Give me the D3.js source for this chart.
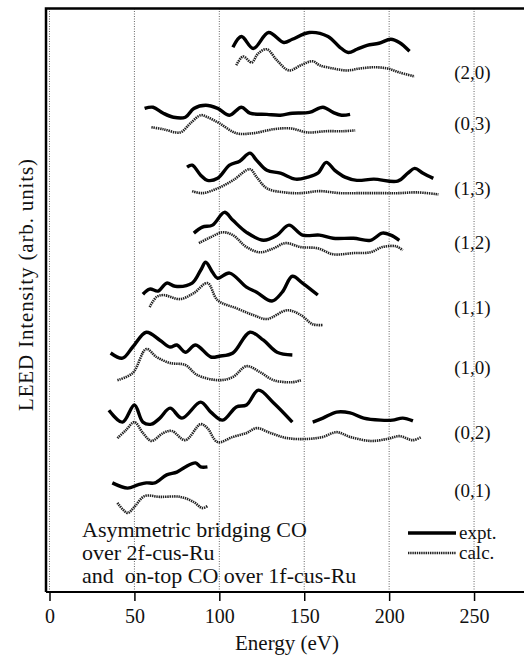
<!DOCTYPE html>
<html>
<head>
<meta charset="utf-8">
<script src="https://cdn.jsdelivr.net/npm/d3@7"></script>
<style>
  body { margin: 0; background: #fff; }
  svg text { font-family: "Liberation Serif", "Times New Roman", serif; fill: #111; }
</style>
</head>
<body>
<svg id="chart" width="524" height="656"></svg>
<script>
// LEED I(V) curves, energies in eV, intensity in arbitrary (offset) units
const beams = ['(2,0)', '(0,3)', '(1,3)', '(1,2)', '(1,1)', '(1,0)', '(0,2)', '(0,1)'];
const labelLevels = [130, 117.3, 101, 87.5, 71.3, 56.3, 40, 25.5];
const xTicks = [0, 50, 100, 150, 200, 250];

// experiment (solid)
const expE20 = [108,113,120,129,138,143,153,164,171,176,181,187,194,201,206,212];
const expI20 = [136.3,139,136,140,137.5,138.3,140,139,136.3,135,135.8,136.8,137.3,138.3,137.5,135.3];
const expE03 = [56,61,67,73,80,85,92,99,106,113,118,128,136,143,153,161,167,172,177];
const expI03 = [121,121.3,119.8,118.8,118.8,121,121.8,121,119.3,121.3,119.8,119.5,119.3,119.8,120,121.3,120,119.3,119.5];
const expE13 = [81,84,89,93,99,106,112,118,122,128,136,145,152,158,163,168,174,181,191,205,211,215,220,226];
const expI13 = [106.3,106.8,104.3,103,103.5,106.8,107.8,109.8,108,105.5,104.8,103.3,103.8,104.8,107.5,105.5,103.8,103,103.3,102.8,104.8,106,104.8,103.5];
const expE12 = [85,90,96,103,108,116,126,134,141,149,159,167,179,189,196,201,206];
const expI12 = [89.8,91.3,91.8,95,93,90,88,89.3,91.8,89.3,89.3,88.5,88.5,88,89.8,89.3,88];
const expE11 = [55,59,64,69,74,84,89,92,96,99,106,116,122,131,137,143,149,158];
const expI11 = [74.5,75.8,75.3,77.3,76.5,77.3,80.5,82.5,80,78.5,79.8,76.3,75,72.8,75,79,77.3,74.3];
const expE10 = [36,43,49,57,65,71,75,80,86,95,100,108,118,126,134,143];
const expI10 = [59.8,58.5,61.3,65,63,61.3,61.8,60,61.8,58.8,59,59.8,65,63,60,59.3];
const expE02a = [35,43,50,55,60,65,71,78,89,95,102,110,116,123,132,143];
const expI02a = [45.5,42.5,46.8,42.5,42,43.5,46,43.5,47.5,45,43,46.3,46.8,50.5,47.3,42.5];
const expE02b = [155,161,169,177,185,195,202,208,214];
const expI02b = [42.5,43.5,45,44.8,43.5,43,43,43.5,42.8];
const expE01 = [37,46,52,57,62,69,75,80,86,89,93];
const expI01 = [27.3,26,26.8,27.3,27.3,29.3,30,31.3,32.3,31.3,31.3];

// calculation (dotted)
const calE20 = [110,114,119,123,128,134,141,148,155,159,167,175,183,191,199,206,215];
const calI20 = [131.8,134,132.5,134.8,135.8,133,130.5,131.8,132.8,131.8,131,130.5,131,131.3,131,130,129];
const calE03 = [60,67,77,83,89,93,100,110,120,132,142,152,163,173,180];
const calI03 = [116.3,115.8,115,117.3,119.3,118.8,117.3,114.8,114.8,115.8,116,115,115.3,115.3,115.5];
const calE13 = [84,90,99,108,118,122,128,138,148,159,171,183,195,206,216,229];
const calI13 = [100.3,99.8,101,103,105.8,103.8,101,100,99.8,100.3,99.8,99.8,99.8,99.8,100,99.5];
const calE12 = [88,95,102,108,116,124,132,139,148,158,167,179,189,196,204,208];
const calI12 = [87.3,88.8,90,89.3,86.3,85,86,87.3,86.3,86,84.5,84.8,85,86.3,86.5,85.5];
const calE11 = [59,63,67,77,85,93,99,110,120,128,140,148,155,161];
const calI11 = [71.3,73.8,74.3,73.3,74.8,77.3,73,71,69.3,68.3,70.5,69.3,67,66.8];
const calE10 = [40,49,57,63,71,80,87,100,108,116,124,132,143,148];
const calI10 = [53,54.8,60.8,58.8,57.3,56.8,54.3,53,53.8,56.5,55,53,52.5,53];
const calE02 = [40,45,50,55,60,67,72,80,89,93,99,108,116,122,130,140,152,161,169,177,189,199,206,214,219];
const calI02 = [38.5,40.5,42.5,39.8,37.8,39.8,40.3,38,42,41,37.5,38.8,39.8,41,39.8,38.5,38.3,38.8,40,38.8,37.8,38.3,39,38,38.8];
const calE01 = [40,46,50,56,65,77,85,90,93];
const calI01 = [22.3,19.8,21.3,24,23.8,23.8,22.5,21,21.5];

const expt = [[expE20, expI20], [expE03, expI03], [expE13, expI13], [expE12, expI12],
              [expE11, expI11], [expE10, expI10], [expE02a, expI02a], [expE02b, expI02b], [expE01, expI01]];
const calc = [[calE20, calI20], [calE03, calI03], [calE13, calI13], [calE12, calI12],
              [calE11, calI11], [calE10, calI10], [calE02, calI02], [calE01, calI01]];

const svg = d3.select('#chart');
const plotTop = 8.5, plotBottom = 592, plotLeft = 46;

const x = d3.scaleLinear().domain([0, 280]).range([49.5, 525]);
const y = d3.scaleLinear().domain([0, 146]).range([plotBottom, plotTop]);

// dotted vertical grid
svg.append('g').selectAll('line')
    .data(xTicks)
    .join('line')
    .attr('x1', d => x(d)).attr('x2', d => x(d))
    .attr('y1', plotTop).attr('y2', plotBottom)
    .attr('stroke', '#666')
    .attr('stroke-width', 1)
    .attr('stroke-dasharray', '1,1.5');

const line = d3.line()
    .x(d => x(d[0]))
    .y(d => y(d[1]))
    .curve(d3.curveCatmullRom.alpha(0.5));

const zipPts = ([es, is]) => es.map((e, i) => [e, is[i]]);

const calcDash = '1.4,0.8';
svg.append('g').selectAll('path')
    .data(calc.map(zipPts))
    .join('path')
    .attr('d', line)
    .attr('fill', 'none')
    .attr('stroke', '#222')
    .attr('stroke-width', 2.6)
    .attr('stroke-dasharray', calcDash);

svg.append('g').selectAll('path')
    .data(expt.map(zipPts))
    .join('path')
    .attr('d', line)
    .attr('fill', 'none')
    .attr('stroke', '#000')
    .attr('stroke-width', 3.4)
    .attr('stroke-linejoin', 'round');

// beam labels
svg.append('g').selectAll('text')
    .data(beams)
    .join('text')
    .attr('x', x(249))
    .attr('y', (d, i) => y(labelLevels[i]))
    .attr('dy', '0.35em')
    .attr('text-anchor', 'middle')
    .attr('font-size', 19)
    .text(d => d);

// frame (left + top), x axis
svg.append('path')
    .attr('d', `M524,${plotTop}H${plotLeft}V${plotBottom}`)
    .attr('fill', 'none')
    .attr('stroke', '#000')
    .attr('stroke-width', 2.5);

const xAxis = svg.append('g')
    .attr('transform', `translate(0,${plotBottom})`)
    .call(d3.axisBottom(x).tickValues(xTicks).tickSize(9).tickSizeOuter(0).tickPadding(8));
xAxis.select('.domain').remove();
xAxis.selectAll('.tick line').attr('stroke', '#000').attr('stroke-width', 1.5);
xAxis.selectAll('.tick text').attr('font-size', 20).attr('font-family', '"Liberation Serif", serif').attr('fill', '#111');
svg.append('line')
    .attr('x1', plotLeft).attr('x2', 524)
    .attr('y1', plotBottom).attr('y2', plotBottom)
    .attr('stroke', '#000').attr('stroke-width', 2);

svg.append('text')
    .attr('x', 287).attr('y', 650)
    .attr('text-anchor', 'middle')
    .attr('font-size', 21)
    .text('Energy (eV)');

svg.append('text')
    .attr('transform', 'translate(33,285) rotate(-90)')
    .attr('text-anchor', 'middle')
    .attr('font-size', 21)
    .attr('textLength', 252)
    .text('LEED Intensity (arb. units)');

// annotation
const note = ['Asymmetric bridging CO', 'over 2f-cus-Ru', 'and  on-top CO over 1f-cus-Ru'];
svg.append('g').selectAll('text')
    .data(note)
    .join('text')
    .attr('x', 82)
    .attr('y', (d, i) => 537 + i * 23)
    .attr('font-size', 22)
    .style('white-space', 'pre')
    .text(d => d);

// legend
const legend = [{ name: 'expt.', dash: null, w: 3.4, c: '#000' },
                { name: 'calc.', dash: calcDash, w: 2.6, c: '#222' }];
const lg = svg.append('g').selectAll('g')
    .data(legend)
    .join('g')
    .attr('transform', (d, i) => `translate(408,${533 + i * 20})`);
lg.append('line')
    .attr('x1', 0).attr('x2', 48)
    .attr('stroke', d => d.c)
    .attr('stroke-width', d => d.w)
    .attr('stroke-dasharray', d => d.dash);
lg.append('text')
    .attr('x', 51)
    .attr('dy', '0.3em')
    .attr('font-size', 19)
    .text(d => d.name);
</script>
</body>
</html>
